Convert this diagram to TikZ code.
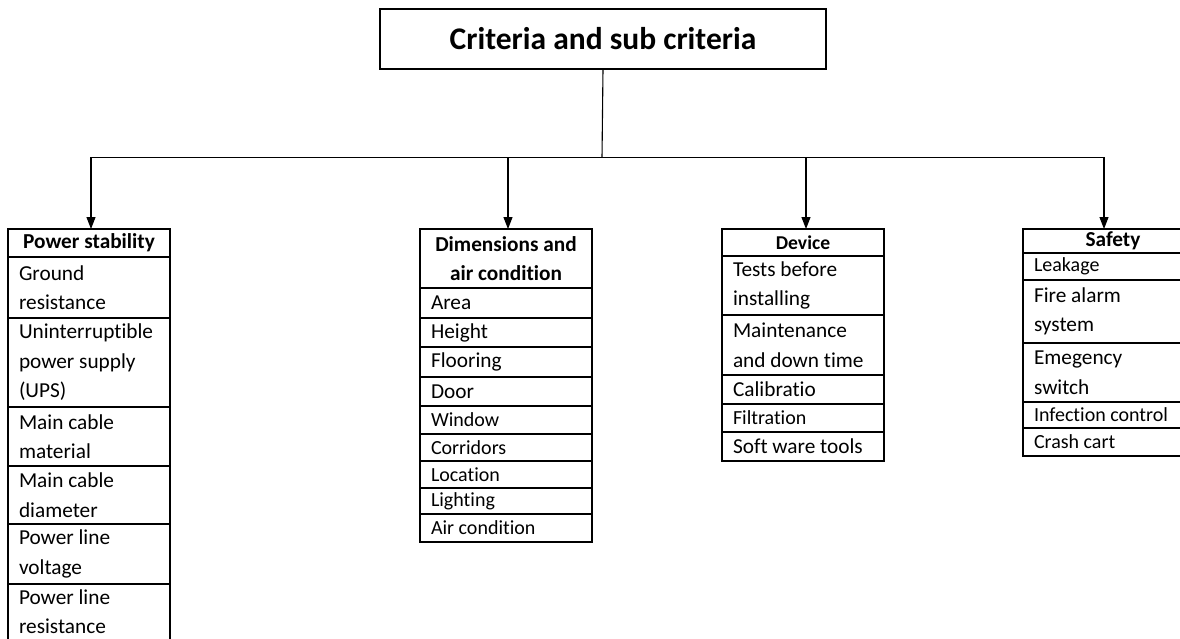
\documentclass[tikz,border=0pt]{standalone}
\usepackage{fontspec}
\setmainfont{Carlito}[Ligatures=CommonOff]
\usetikzlibrary{arrows.meta}
\tikzset{
  cellbase/.style={rectangle, anchor=north west, outer sep=0pt,
    inner xsep=11pt, inner ysep=0pt, align=flush left},
  cell/.style={cellbase, draw, line width=1.2pt},
  lg/.style={font=\fontsize{21.3}{29.5}\selectfont},
  sm/.style={font=\fontsize{20}{29.5}\selectfont},
  hd/.style={align=flush center, font=\bfseries\fontsize{21.3}{29.5}\selectfont},
  hdsm/.style={align=flush center, font=\bfseries\fontsize{19.6}{29.5}\selectfont},
  wa/.style={text width=140pt},
  wb/.style={text width=150pt},
  wc/.style={text width=158pt},
  edge/.style={line width=1.2pt},
  conn/.style={line width=1.1pt},
  arr/.style={line width=1.1pt, -{Triangle[length=12pt,width=9pt]}},
}
\begin{document}
\begin{tikzpicture}[x=1pt,y=-1pt]
\useasboundingbox (0,0) rectangle (1180,639);
\clip (0,0) rectangle (1180,639);

% top box
\node[draw, line width=1.3pt, outer sep=0pt, minimum width=446pt, minimum height=60pt,
      font=\bfseries\fontsize{31.5}{34}\selectfont] (top) at (603,39) {Criteria and sub criteria};

% Power stability
\node[cell,wa,hd,minimum height=28pt] (p0) at (8,229) {Power stability};
\node[cell,wa,lg,minimum height=61pt] (p1) at (8,257) {Ground\\resistance};
\node[cell,wa,lg,minimum height=89pt] (p2) at (8,318) {Uninterruptible\\power supply\\(UPS)};
\node[cell,wa,lg,minimum height=59pt] (p3) at (8,407) {Main cable\\material};
\node[cell,wa,lg,minimum height=58pt] (p4) at (8,466) {Main cable\\diameter};
\node[cell,wa,lg,minimum height=60pt] (p5) at (8,524) {Power line\\voltage};
\node[cellbase,wa,lg,minimum height=55pt] (p6) at (8,584) {Power line\\resistance};
\draw[edge] (p6.south west) -- (p6.north west) -- (p6.north east) -- (p6.south east);

% Dimensions and air condition
\node[cell,wb,hd,minimum height=59pt] (d0) at (420,229) {Dimensions and\\air condition};
\node[cell,wb,lg,minimum height=30pt] (d1) at (420,288) {Area};
\node[cell,wb,lg,minimum height=29pt] (d2) at (420,318) {Height};
\node[cell,wb,lg,minimum height=30pt] (d3) at (420,347) {Flooring};
\node[cell,wb,lg,minimum height=29pt] (d4) at (420,377) {Door};
\node[cell,wb,sm,minimum height=28pt] (d5) at (420,406) {Window};
\node[cell,wb,sm,minimum height=27pt] (d6) at (420,434) {Corridors};
\node[cell,wb,sm,minimum height=27pt] (d7) at (420,461) {Location};
\node[cell,wb,sm,minimum height=26pt] (d8) at (420,488) {Lighting};
\node[cell,wb,sm,minimum height=28pt] (d9) at (420,514) {Air condition};

% Device
\node[cell,wa,hdsm,minimum height=27pt] (v0) at (722,229) {Device};
\node[cell,wa,lg,minimum height=59pt] (v1) at (722,256) {Tests before\\installing};
\node[cell,wa,lg,minimum height=60pt] (v2) at (722,315) {Maintenance\\and down time};
\node[cell,wa,lg,minimum height=29pt] (v3) at (722,375) {Calibratio};
\node[cell,wa,sm,minimum height=28pt] (v4) at (722,404) {Filtration};
\node[cell,wa,lg,minimum height=29pt] (v5) at (722,432) {Soft ware tools};

% Safety
\node[cell,wc,hd,minimum height=24pt] (s0) at (1023,229) {Safety};
\node[cell,wc,sm,minimum height=27pt] (s1) at (1023,253) {Leakage};
\node[cell,wc,lg,minimum height=63pt] (s2) at (1023,280) {Fire alarm\\system};
\node[cell,wc,lg,minimum height=59pt] (s3) at (1023,343) {Emegency\\switch};
\node[cell,wc,sm,minimum height=26pt] (s4) at (1023,402) {Infection control};
\node[cell,wc,sm,minimum height=28pt] (s5) at (1023,428) {Crash cart};

% connectors
\coordinate (j) at (602,157.5);
\coordinate (b1) at (91,157.5);
\coordinate (b2) at (508,157.5);
\coordinate (b3) at (806,157.5);
\coordinate (b4) at (1104,157.5);
\draw[conn] (top.south) -- (j);
\draw[conn] (b1) -- (b4);
\draw[arr] (b1) -- (b1 |- p0.north);
\draw[arr] (b2) -- (b2 |- d0.north);
\draw[arr] (b3) -- (b3 |- v0.north);
\draw[arr] (b4) -- (b4 |- s0.north);
\end{tikzpicture}
\end{document}
